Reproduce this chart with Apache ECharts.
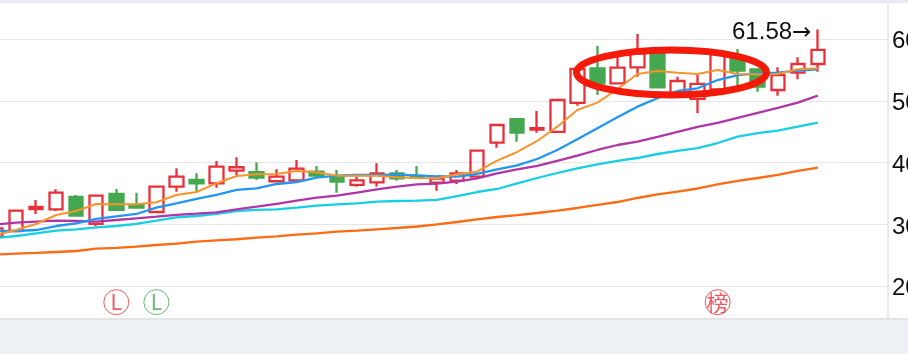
<!DOCTYPE html>
<html>
<head>
<meta charset="utf-8">
<style>
  html, body { margin: 0; padding: 0; background: #fff; overflow: hidden; }
  #chart { width: 908px; height: 354px; }
</style>
<script src="https://cdn.jsdelivr.net/npm/echarts@6/dist/echarts.min.js"></script>
</head>
<body>
<div id="chart"></div>
<script>
// [open, close, low, high]
const candles = [
  [28.01, 29.37, 28.01, 29.37], [28.93, 32.22, 28.93, 32.22], [32.50, 32.82, 31.69, 33.96],
  [32.45, 35.14, 32.17, 35.69], [34.44, 31.41, 31.41, 34.77], [30.07, 34.65, 29.74, 34.65],
  [34.93, 32.34, 32.17, 35.74], [33.15, 32.71, 32.71, 35.14], [32.01, 36.11, 32.01, 36.11],
  [36.11, 37.73, 35.30, 39.09], [37.20, 36.66, 35.30, 38.28], [36.66, 39.35, 35.95, 40.28],
  [38.70, 39.26, 38.01, 40.88], [38.45, 37.57, 37.20, 40.07], [36.99, 37.73, 36.99, 38.93],
  [37.15, 39.03, 36.87, 40.44], [38.54, 37.89, 37.64, 39.47], [37.73, 36.92, 35.14, 38.82],
  [36.39, 37.15, 36.11, 37.73], [36.82, 38.28, 36.11, 39.90], [38.28, 37.47, 37.08, 38.82],
  [37.85, 37.64, 37.64, 39.47], [36.76, 37.41, 35.46, 37.73], [37.08, 38.28, 36.55, 38.82],
  [37.73, 41.95, 37.73, 41.95], [43.24, 46.11, 42.43, 46.11], [47.04, 44.86, 43.40, 47.04],
  [45.35, 45.58, 44.86, 48.38], [44.98, 50.16, 44.98, 50.16], [49.68, 55.19, 49.24, 55.19],
  [55.30, 52.87, 50.97, 58.91], [52.87, 55.40, 52.87, 57.46], [55.46, 57.73, 53.94, 60.86],
  [57.83, 52.22, 52.22, 57.83], [50.97, 53.24, 50.65, 53.94], [50.33, 52.76, 48.01, 54.21],
  [51.90, 57.73, 51.35, 57.73], [57.02, 54.91, 52.43, 58.43], [55.14, 52.32, 51.51, 55.14],
  [51.78, 54.21, 50.86, 55.46], [54.59, 56.00, 53.52, 57.08], [56.00, 58.27, 54.75, 61.58]
];
const ma5 = [28.28, 29.09, 30.07, 31.52, 32.17, 33.31, 33.26, 33.26, 33.58, 34.77, 35.25, 36.66, 37.85, 38.12, 38.17, 38.66, 38.45, 37.89, 37.89, 37.89, 37.64, 37.52, 37.47, 38.12, 38.54, 40.33, 41.74, 43.52, 45.84, 48.54, 49.73, 51.90, 54.38, 54.86, 54.59, 54.38, 55.03, 54.38, 54.33, 54.38, 55.14, 55.30];
const ma10 = [28.93, 28.93, 29.09, 29.74, 30.18, 30.88, 31.31, 31.69, 32.71, 33.42, 34.12, 34.77, 35.58, 35.85, 36.55, 36.87, 37.57, 37.89, 38.01, 38.01, 38.06, 37.96, 37.80, 37.73, 38.17, 38.93, 39.58, 40.60, 42.06, 43.79, 45.58, 47.36, 49.08, 50.44, 51.62, 52.06, 53.40, 54.21, 54.49, 54.59, 54.91, 55.14];
const ma20 = [29.99, 30.28, 30.44, 30.60, 30.55, 30.44, 30.71, 30.99, 31.25, 31.53, 31.74, 31.96, 32.45, 32.87, 33.31, 33.84, 34.33, 34.65, 35.14, 35.69, 36.11, 36.50, 36.60, 36.92, 37.47, 38.28, 38.93, 39.47, 40.28, 41.14, 42.06, 42.87, 43.40, 44.17, 44.98, 45.79, 46.44, 47.25, 48.06, 48.87, 49.73, 50.86];
const ma30 = [27.80, 28.12, 28.56, 28.98, 29.21, 29.53, 29.74, 30.07, 30.60, 31.15, 31.36, 31.69, 32.17, 32.34, 32.45, 32.71, 33.03, 33.26, 33.42, 33.68, 33.79, 33.84, 33.96, 34.60, 35.25, 35.74, 36.66, 37.52, 38.33, 39.09, 39.74, 40.28, 40.76, 41.41, 41.90, 42.38, 43.19, 44.22, 44.81, 45.19, 45.84, 46.48];
const ma60 = [25.12, 25.25, 25.37, 25.53, 25.69, 26.06, 26.18, 26.39, 26.66, 26.87, 27.20, 27.42, 27.59, 27.85, 28.07, 28.33, 28.56, 28.82, 28.98, 29.21, 29.42, 29.66, 29.99, 30.39, 30.80, 31.20, 31.52, 31.85, 32.25, 32.66, 33.15, 33.63, 34.28, 34.85, 35.33, 35.82, 36.47, 37.04, 37.52, 38.01, 38.66, 39.22];
const categories = candles.map((c, i) => "d" + i).concat(["", " ", "  "]);
const redMarks = [[6, 17.4]];
const greenMarks = [[8, 17.4]];
const bangMarks = [[36, 17.4]];

const RED = "#e8303a";
const GREEN = "#45a850";

const maLine = (name, data, color, width) => ({
  name, type: "line", data, showSymbol: false, symbol: "none", silent: true,
  lineStyle: { color, width }, z: 5
});

const badge = (data, text, color, font) => ({
  type: "scatter", data, symbol: "circle", symbolSize: 25, z: 6,
  itemStyle: { color: "#fff", borderColor: color, borderWidth: 1 },
  label: { show: true, position: "inside", formatter: text, color, fontSize: font, fontFamily: "'Noto Sans CJK SC', 'Liberation Sans'" }
});

const chart = echarts.init(document.getElementById("chart"));
chart.setOption({
  animation: false,
  backgroundColor: "#fff",
  grid: { left: -14, right: 20, top: -22.4, bottom: 6.2, outerBoundsMode: "none" },
  xAxis: {
    type: "category", data: categories, boundaryGap: true,
    axisLine: { show: false }, axisTick: { show: false }, axisLabel: { show: false }, splitLine: { show: false }
  },
  yAxis: {
    type: "value", position: "right", min: 10, max: 70, interval: 10,
    axisLine: { show: true, lineStyle: { color: "#e0e0e0", width: 1.5 } },
    axisTick: { show: false },
    axisLabel: {
      margin: 4, formatter: "{v|{value}}",
      rich: { v: { color: "#111", fontSize: 24, padding: [5, 0, 0, 0], fontFamily: "'Liberation Sans'" } }
    },
    splitLine: { lineStyle: { color: "#e6e6e6", width: 1 } }
  },
  series: [
    {
      type: "candlestick", data: candles, barWidth: 14, z: 3,
      itemStyle: { color: "transparent", color0: GREEN, borderColor: RED, borderColor0: GREEN, borderWidth: 2.3 },
      markPoint: {
        symbol: "circle", symbolSize: 1, silent: true,
        itemStyle: { color: "transparent" },
        data: [{
          coord: [41, 61.58],
          label: {
            show: true, formatter: "{n|61.58}{a|→}", position: "left", distance: 6, offset: [0, 3],
            color: "#111",
            rich: {
              n: { color: "#111", fontSize: 24, fontFamily: "'Liberation Sans'" },
              a: { color: "#111", fontSize: 23, fontFamily: "'DejaVu Sans'" }
            }
          }
        }]
      }
    },
    maLine("ma60", ma60, "#ff6a13", 2.3),
    maLine("ma30", ma30, "#16cfe3", 2.3),
    maLine("ma20", ma20, "#b036a8", 2.3),
    maLine("ma10", ma10, "#2196f3", 2.3),
    maLine("ma5", ma5, "#f7942c", 2),
    badge(redMarks, "L", RED, 21),
    badge(greenMarks, "L", GREEN, 21),
    badge(bangMarks, "榜", RED, 22)
  ],
  graphic: [
    { type: "ellipse", z: 100, shape: { cx: 671.5, cy: 72.5, rx: 95, ry: 22.5 }, style: { fill: "none", stroke: "#f5190a", lineWidth: 7 } },
    { type: "rect", z: 100, shape: { x: 0, y: 0, width: 908, height: 3 }, style: { fill: "#e9eaef" } },
    { type: "rect", z: 100, shape: { x: 0, y: 319, width: 908, height: 35 }, style: { fill: "#edf0f5" } },
    { type: "rect", z: 101, shape: { x: 0, y: 318, width: 908, height: 2 }, style: { fill: "#e4e4e4" } }
  ]
});
</script>
</body>
</html>
